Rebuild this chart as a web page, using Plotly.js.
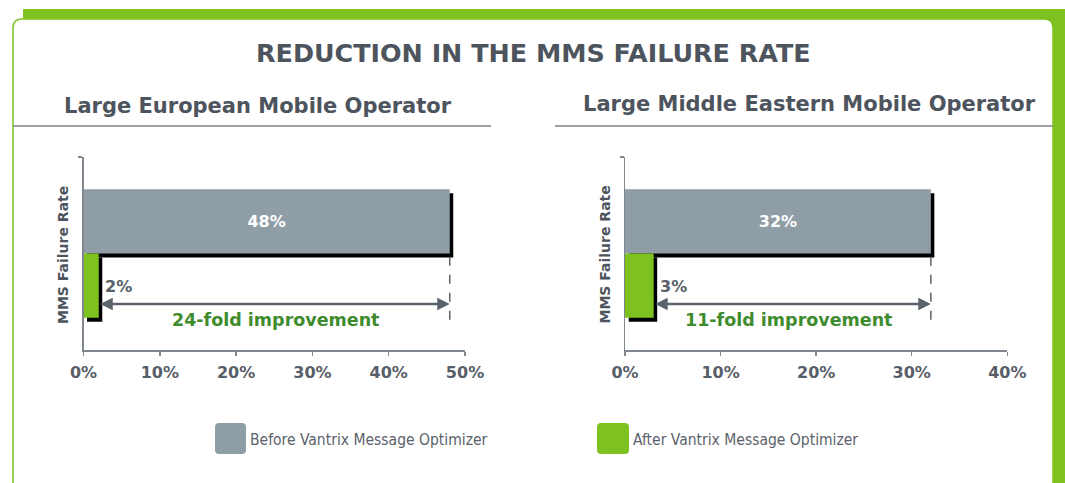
<!DOCTYPE html>
<html>
<head>
<meta charset="utf-8">
<script src="https://cdn.plot.ly/plotly-3.0.1.min.js"></script>
<style>html,body{margin:0;padding:0;background:#fff;}#chart{width:1065px;height:483px;}</style>
</head>
<body>
<div id="chart"></div>
<script>
// ---- data ----
const chartTitle = 'REDUCTION IN THE MMS FAILURE RATE';
const operators = ['Large European Mobile Operator', 'Large Middle Eastern Mobile Operator'];
const seriesNames = ['Before Vantrix Message Optimizer', 'After Vantrix Message Optimizer'];
const beforeRates = [48, 32];
const afterRates = [2, 3];
const xTickVals = [[0, 10, 20, 30, 40, 50], [0, 10, 20, 30, 40]];
const xTickText = [['0%', '10%', '20%', '30%', '40%', '50%'], ['0%', '10%', '20%', '30%', '40%']];
const xRangeMax = [50, 40];
const yAxisTitle = 'MMS Failure Rate';

// ---- styling ----
const W = 1065, H = 483;
const px = x => x / W;
const py = y => 1 - y / H;
const GREY = '#8f9ea6';
const GREEN = '#7dc21e';
const TEXT = '#4d545d';
const AXIS = '#80868d';
const FOLD = '#3f8c2f';
const FONT = 'DejaVu Sans';

const plotX = [[83.5, 465], [625, 1007.3]];
const plotY = [157, 350];
const sh = {dx: 3.5, dy: 4};
const foldShift = [2, -3];

function rr(x0, y0, x1, y1, r) {
  return `M ${px(x0)},${py(y1)} L ${px(x0)},${py(y0 + r)} Q ${px(x0)},${py(y0)} ${px(x0 + r)},${py(y0)} ` +
    `L ${px(x1 - r)},${py(y0)} Q ${px(x1)},${py(y0)} ${px(x1)},${py(y0 + r)} L ${px(x1)},${py(y1 - r)} ` +
    `Q ${px(x1)},${py(y1)} ${px(x1 - r)},${py(y1)} L ${px(x0 + r)},${py(y1)} Q ${px(x0)},${py(y1)} ${px(x0)},${py(y1 - r)} Z`;
}
function panelPath(x0, y0, x1, y1, r) {
  return `M ${px(x0)},${py(y1)} L ${px(x0)},${py(y0 + r)} Q ${px(x0)},${py(y0)} ${px(x0 + r)},${py(y0)} ` +
    `L ${px(x1 - r)},${py(y0)} Q ${px(x1)},${py(y0)} ${px(x1)},${py(y0 + r)} L ${px(x1)},${py(y1)} Z`;
}

const traces = [];
const layout = {
  width: W, height: H,
  margin: {l: 0, r: 0, t: 0, b: 0},
  paper_bgcolor: '#ffffff',
  plot_bgcolor: 'rgba(0,0,0,0)',
  showlegend: false,
  barmode: 'overlay',
  font: {family: FONT, color: TEXT},
  shapes: [],
  annotations: []
};

// frame
layout.shapes.push({type: 'rect', xref: 'paper', yref: 'paper', x0: px(23), x1: px(1065), y0: py(9), y1: py(483),
  fillcolor: GREEN, line: {width: 0}, layer: 'below'});
layout.shapes.push({type: 'path', xref: 'paper', yref: 'paper', path: panelPath(13, 19, 1053, 500, 9),
  fillcolor: '#ffffff', line: {color: GREEN, width: 1.5}, layer: 'below'});
// underlines
layout.shapes.push({type: 'line', xref: 'paper', yref: 'paper', x0: px(13), x1: px(491), y0: py(126), y1: py(126),
  line: {color: '#7c8188', width: 1.5}, layer: 'below'});
layout.shapes.push({type: 'line', xref: 'paper', yref: 'paper', x0: px(555), x1: px(1053), y0: py(126), y1: py(126),
  line: {color: '#7c8188', width: 1.5}, layer: 'below'});

layout.annotations.push({xref: 'paper', yref: 'paper', x: px(533), y: py(52.5), text: chartTitle, showarrow: false,
  xanchor: 'center', yanchor: 'middle', font: {family: FONT, size: 25.4, color: TEXT, weight: 'bold'}});

const subX = [257.5, 809];
const subY = [106, 104];

operators.forEach((op, i) => {
  const sx = 'x' + (i + 1), sy = 'y' + (i + 1);           // shadow axes
  const rx = 'x' + (i + 3), ry = 'y' + (i + 3);           // real axes
  const [a, b] = plotX[i];
  layout['xaxis' + (i + 1)] = {domain: [px(a + sh.dx), px(b + sh.dx)], range: [0, xRangeMax[i]], visible: false, anchor: sy, fixedrange: true};
  layout['yaxis' + (i + 1)] = {domain: [py(plotY[1] + sh.dy), py(plotY[0] + sh.dy)], range: [2, -1], visible: false, anchor: sx, fixedrange: true};
  layout['xaxis' + (i + 3)] = {domain: [px(a), px(b)], range: [0, xRangeMax[i]], anchor: ry,
    showline: true, linecolor: AXIS, linewidth: 1.5, showgrid: false, zeroline: false,
    tickmode: 'array', tickvals: xTickVals[i], ticktext: xTickText[i], ticks: 'outside', ticklen: 4, tickwidth: 1.5, tickcolor: AXIS,
    ticklabelstandoff: 3, tickfont: {family: FONT, size: 16, color: '#575e67', weight: 'bold'}, fixedrange: true};
  layout['yaxis' + (i + 3)] = {domain: [py(plotY[1]), py(plotY[0])], range: [2, -1], anchor: rx,
    showline: true, linecolor: AXIS, linewidth: 1.5, showgrid: false, zeroline: false,
    tickmode: 'array', tickvals: [-1], ticks: 'outside', ticklen: 4, tickwidth: 1.5, tickcolor: AXIS,
    showticklabels: false, fixedrange: true};

  // shadows
  traces.push({type: 'bar', orientation: 'h', x: [beforeRates[i], afterRates[i]], y: [0, 1], width: 1,
    xaxis: sx, yaxis: sy, marker: {color: '#000000', line: {width: 0}}, hoverinfo: 'skip'});
  // real bars
  traces.push({type: 'bar', orientation: 'h', name: seriesNames[0], x: [beforeRates[i]], y: [0], width: 1,
    xaxis: rx, yaxis: ry, marker: {color: GREY, line: {width: 0}},
    text: [beforeRates[i] + '%'], textposition: 'inside', insidetextanchor: 'middle',
    insidetextfont: {family: FONT, size: 16, color: '#ffffff', weight: 'bold'}, constraintext: 'none'});
  traces.push({type: 'bar', orientation: 'h', name: seriesNames[1], x: [afterRates[i]], y: [1], width: 1,
    xaxis: rx, yaxis: ry, marker: {color: GREEN, line: {width: 0}}, textposition: 'none'});

  // after-value label
  layout.annotations.push({xref: rx, yref: ry, x: afterRates[i], y: 1.02, xshift: 4, text: afterRates[i] + '%',
    showarrow: false, xanchor: 'left', yanchor: 'middle', font: {family: FONT, size: 16, color: '#575e67', weight: 'bold'}});
  // subtitle
  layout.annotations.push({xref: 'paper', yref: 'paper', x: px(subX[i]), y: py(subY[i]), text: op, showarrow: false,
    xanchor: 'center', yanchor: 'middle', font: {family: FONT, size: 21, color: TEXT, weight: 'bold'}});
  // y title
  layout.annotations.push({xref: 'paper', yref: 'paper', x: px(a - 20.5), y: py(255), text: yAxisTitle, showarrow: false,
    textangle: -90, xanchor: 'center', yanchor: 'middle', font: {family: FONT, size: 14, color: TEXT, weight: 'bold'}});
  // double arrow
  layout.annotations.push({xref: rx, yref: ry, axref: rx, ayref: ry, x: beforeRates[i], y: 1.285,
    ax: afterRates[i], ay: 1.285, text: '', showarrow: true, arrowside: 'end+start', arrowhead: 2, arrowsize: 1,
    arrowwidth: 2.5, arrowcolor: '#5a626b', standoff: 0, startstandoff: 0});
  // fold text
  const fold = Math.round(beforeRates[i] / afterRates[i]);
  layout.annotations.push({xref: rx, yref: ry, x: (beforeRates[i] + afterRates[i]) / 2, y: 1.534, xshift: foldShift[i],
    text: fold + '-fold improvement', showarrow: false, xanchor: 'center', yanchor: 'middle',
    font: {family: FONT, size: 17.5, color: FOLD, weight: 'bold'}});
  // dashed guide
  layout.shapes.push({type: 'line', xref: rx, yref: ry, x0: beforeRates[i], x1: beforeRates[i], y0: 0.55, y1: 1.58,
    line: {color: '#5a626b', width: 1.5, dash: 'dash'}});
});

// legend
const legSq = [[215, 246], [597, 629]];
const legColors = [GREY, GREEN];
seriesNames.forEach((n, i) => {
  layout.shapes.push({type: 'path', xref: 'paper', yref: 'paper', path: rr(legSq[i][0], 423, legSq[i][1], 454, 4),
    fillcolor: legColors[i], line: {width: 0}});
  layout.annotations.push({xref: 'paper', yref: 'paper', x: px(legSq[i][1] + 2), y: py(439.5), text: n, showarrow: false,
    xanchor: 'left', yanchor: 'middle', font: {family: 'DejaVu Sans Condensed', size: 15.5, color: '#5b626b'}});
});

Plotly.newPlot('chart', traces, layout, {displayModeBar: false, staticPlot: true});
</script>
</body>
</html>
